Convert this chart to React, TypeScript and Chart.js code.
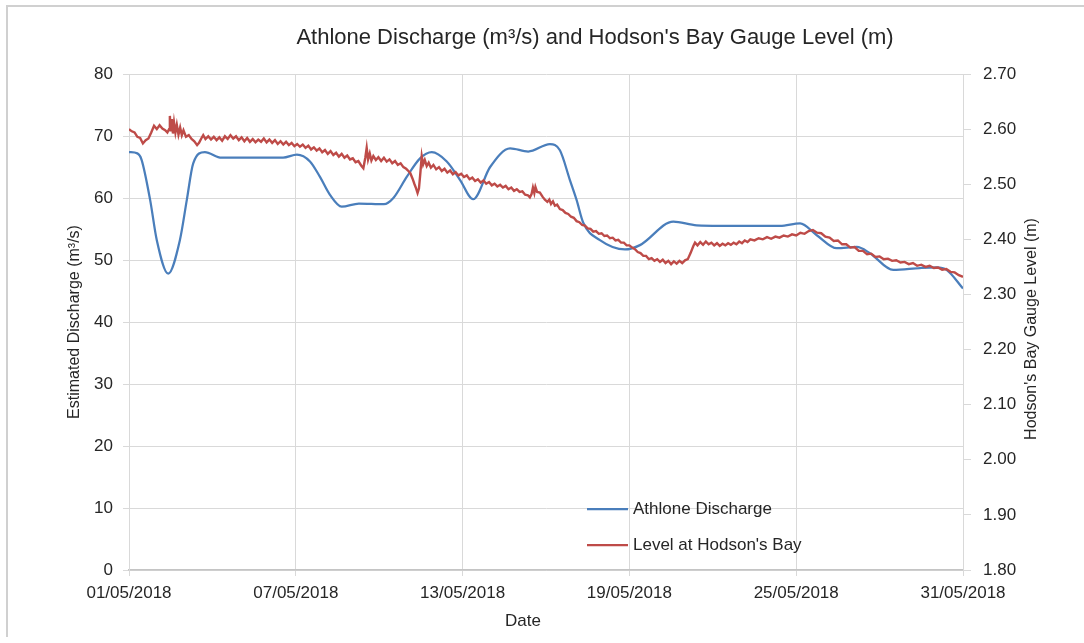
import React, { useEffect, useRef } from "react";
import { Chart, registerables } from "chart.js";

Chart.register(...registerables);

const FONT = "'Liberation Sans', Arial, sans-serif";

const chartTitle = "Athlone Discharge (m³/s) and Hodson's Bay Gauge Level (m)";
const leftAxisTitle = "Estimated Discharge (m³/s)";
const rightAxisTitle = "Hodson's Bay Gauge Level (m)";
const xAxisTitle = "Date";
const seriesNames = ["Athlone Discharge", "Level at Hodson's Bay"];

const dateTickLabels = ["01/05/2018", "07/05/2018", "13/05/2018", "19/05/2018", "25/05/2018", "31/05/2018"];

// Athlone discharge (m3/s), x = days since 01/05/2018
const dischargeDays = [0, 0.3, 0.45, 0.76, 1.0, 1.41, 1.83, 2.08, 2.31, 2.73, 3.33, 4.5, 5.54, 6.04, 6.51, 6.87, 7.23, 7.65, 8.27, 9.17, 9.51, 9.99, 10.47, 10.89, 11.43, 11.91, 12.38, 12.99, 13.71, 14.36, 15.14, 15.5, 15.86, 16.1, 16.34, 16.94, 17.84, 18.38, 19.58, 20.42, 22.34, 23.42, 24.14, 24.74, 25.46, 26.18, 26.65, 27.49, 28.45, 29.05, 29.41, 30];
const dischargeValues = [67.4, 67.2, 66.2, 59.7, 53.2, 47.8, 53.2, 59.7, 65.6, 67.4, 66.5, 66.5, 66.5, 67.0, 65.9, 63.4, 60.5, 58.6, 59.1, 59.0, 60.0, 63.4, 66.4, 67.4, 65.9, 62.9, 59.8, 65.0, 68.0, 67.5, 68.7, 67.7, 62.9, 59.7, 56.0, 53.2, 51.7, 52.4, 56.2, 55.6, 55.5, 55.5, 55.9, 54.0, 51.9, 52.1, 51.1, 48.4, 48.7, 48.8, 48.4, 45.4];

// Hodson's Bay gauge level (m): [day, level]
const levelReadings: [number, number][] = [
  [0.0, 2.600], [0.1, 2.596], [0.2, 2.594], [0.3, 2.586], [0.4, 2.584], [0.5, 2.574], [0.6, 2.580], [0.7, 2.583], [0.8, 2.594], [0.9, 2.606],
  [1.0, 2.600], [1.1, 2.607], [1.2, 2.601], [1.3, 2.598], [1.38, 2.594], [1.44, 2.600], [1.47, 2.624], [1.50, 2.596], [1.54, 2.618], [1.58, 2.592],
  [1.62, 2.612], [1.67, 2.594], [1.72, 2.608], [1.78, 2.590], [1.84, 2.603], [1.90, 2.589], [1.96, 2.598], [2.05, 2.586], [2.15, 2.589], [2.25, 2.582],
  [2.35, 2.578], [2.45, 2.571], [2.52, 2.575], [2.6, 2.583], [2.67, 2.589], [2.75, 2.582], [2.85, 2.587], [2.95, 2.581], [3.05, 2.586], [3.15, 2.580],
  [3.25, 2.585], [3.35, 2.579], [3.45, 2.587], [3.55, 2.582], [3.65, 2.589], [3.75, 2.583], [3.85, 2.587], [3.95, 2.580], [4.05, 2.585], [4.15, 2.578],
  [4.25, 2.584], [4.35, 2.577], [4.45, 2.582], [4.55, 2.576], [4.65, 2.581], [4.75, 2.577], [4.85, 2.583], [4.95, 2.576], [5.05, 2.581], [5.15, 2.575],
  [5.25, 2.580], [5.35, 2.573], [5.45, 2.578], [5.55, 2.572], [5.65, 2.577], [5.75, 2.571], [5.85, 2.575], [5.95, 2.569], [6.05, 2.573], [6.15, 2.568],
  [6.25, 2.572], [6.35, 2.566], [6.45, 2.570], [6.55, 2.563], [6.65, 2.567], [6.75, 2.561], [6.85, 2.565], [6.95, 2.558], [7.05, 2.562], [7.15, 2.555],
  [7.25, 2.560], [7.35, 2.553], [7.45, 2.557], [7.55, 2.550], [7.65, 2.555], [7.75, 2.548], [7.85, 2.552], [7.95, 2.545], [8.05, 2.547], [8.15, 2.540],
  [8.25, 2.542], [8.35, 2.534], [8.43, 2.529], [8.50, 2.548], [8.55, 2.566], [8.60, 2.545], [8.66, 2.556], [8.72, 2.543], [8.79, 2.551], [8.88, 2.544],
  [8.97, 2.549], [9.07, 2.542], [9.17, 2.548], [9.27, 2.541], [9.37, 2.545], [9.47, 2.538], [9.57, 2.542], [9.67, 2.535], [9.77, 2.538], [9.87, 2.531],
  [9.97, 2.528], [10.05, 2.524], [10.12, 2.520], [10.2, 2.510], [10.27, 2.500], [10.33, 2.492], [10.38, 2.484], [10.43, 2.492], [10.48, 2.520], [10.53, 2.551],
  [10.58, 2.536], [10.64, 2.544], [10.71, 2.533], [10.78, 2.539], [10.86, 2.530], [10.95, 2.535], [11.05, 2.527], [11.15, 2.531], [11.25, 2.524], [11.35, 2.528],
  [11.45, 2.521], [11.55, 2.525], [11.65, 2.518], [11.75, 2.522], [11.85, 2.516], [11.95, 2.519], [12.05, 2.513], [12.15, 2.516], [12.25, 2.509], [12.35, 2.512],
  [12.45, 2.506], [12.55, 2.509], [12.65, 2.503], [12.75, 2.507], [12.85, 2.501], [12.95, 2.504], [13.05, 2.498], [13.15, 2.501], [13.25, 2.496], [13.35, 2.499],
  [13.45, 2.494], [13.55, 2.497], [13.65, 2.491], [13.75, 2.494], [13.85, 2.488], [13.95, 2.491], [14.05, 2.486], [14.15, 2.487], [14.25, 2.481], [14.35, 2.480],
  [14.42, 2.476], [14.48, 2.482], [14.53, 2.494], [14.58, 2.484], [14.62, 2.495], [14.68, 2.486], [14.78, 2.485], [14.88, 2.477], [14.96, 2.472], [15.05, 2.468],
  [15.12, 2.472], [15.18, 2.464], [15.25, 2.469], [15.32, 2.461], [15.4, 2.463], [15.5, 2.455], [15.6, 2.453], [15.7, 2.448], [15.8, 2.446], [15.9, 2.441],
  [16.0, 2.439], [16.1, 2.433], [16.2, 2.431], [16.3, 2.426], [16.4, 2.425], [16.5, 2.420], [16.6, 2.419], [16.7, 2.414], [16.8, 2.415], [16.9, 2.410],
  [17.0, 2.411], [17.1, 2.406], [17.2, 2.407], [17.3, 2.402], [17.4, 2.403], [17.5, 2.398], [17.6, 2.399], [17.7, 2.394], [17.8, 2.394], [17.9, 2.389],
  [18.0, 2.389], [18.1, 2.385], [18.2, 2.382], [18.3, 2.377], [18.4, 2.375], [18.5, 2.370], [18.6, 2.370], [18.7, 2.364], [18.8, 2.366], [18.9, 2.361],
  [19.0, 2.364], [19.1, 2.359], [19.2, 2.363], [19.3, 2.357], [19.4, 2.361], [19.5, 2.355], [19.6, 2.360], [19.7, 2.356], [19.8, 2.361], [19.9, 2.357],
  [20.0, 2.362], [20.1, 2.364], [20.2, 2.375], [20.3, 2.388], [20.36, 2.394], [20.45, 2.389], [20.55, 2.395], [20.65, 2.390], [20.75, 2.396], [20.85, 2.391],
  [20.95, 2.394], [21.05, 2.389], [21.15, 2.393], [21.25, 2.388], [21.35, 2.392], [21.45, 2.389], [21.55, 2.393], [21.65, 2.390], [21.75, 2.394], [21.85, 2.391],
  [21.95, 2.396], [22.05, 2.393], [22.15, 2.398], [22.25, 2.395], [22.35, 2.400], [22.5, 2.398], [22.65, 2.402], [22.8, 2.400], [22.95, 2.404], [23.1, 2.401],
  [23.25, 2.405], [23.4, 2.403], [23.55, 2.407], [23.7, 2.405], [23.85, 2.409], [24.0, 2.407], [24.15, 2.412], [24.3, 2.410], [24.45, 2.415], [24.6, 2.417],
  [24.75, 2.412], [24.9, 2.411], [25.05, 2.405], [25.2, 2.403], [25.35, 2.397], [25.5, 2.398], [25.65, 2.391], [25.8, 2.391], [25.95, 2.385], [26.1, 2.386],
  [26.25, 2.379], [26.4, 2.379], [26.55, 2.373], [26.7, 2.374], [26.85, 2.368], [27.0, 2.369], [27.15, 2.364], [27.3, 2.365], [27.45, 2.361], [27.6, 2.362],
  [27.75, 2.358], [27.9, 2.359], [28.05, 2.355], [28.2, 2.357], [28.35, 2.352], [28.5, 2.354], [28.65, 2.350], [28.8, 2.352], [28.95, 2.348], [29.1, 2.349],
  [29.25, 2.345], [29.4, 2.346], [29.55, 2.341], [29.7, 2.340], [29.85, 2.335], [30.0, 2.332],
];

const BLUE = "#4a7ebb";
const RED = "#be4b48";
const GRID = "#d9d9d9";
const TEXT = "#262626";

const textPlugin = {
  id: "customText",
  afterDraw(chart: any) {
    const { ctx, chartArea } = chart;
    ctx.save();
    ctx.fillStyle = TEXT;
    ctx.textBaseline = "middle";
    ctx.textAlign = "center";

    ctx.font = `22px ${FONT}`;
    ctx.fillText(chartTitle, 595, 38);

    ctx.font = `17px ${FONT}`;
    ctx.fillText(xAxisTitle, 523, 621);

    ctx.font = `16px ${FONT}`;
    ctx.save();
    ctx.translate(75, (chartArea.top + chartArea.bottom) / 2);
    ctx.rotate(-Math.PI / 2);
    ctx.fillText(leftAxisTitle, 0, 0);
    ctx.restore();

    ctx.save();
    ctx.translate(1032, (chartArea.top + chartArea.bottom) / 2 + 7);
    ctx.rotate(-Math.PI / 2);
    ctx.fillText(rightAxisTitle, 0, 0);
    ctx.restore();

    // legend
    const colors = [BLUE, RED];
    const lx = 587;
    const ys = [509, 545];
    ctx.font = `17px ${FONT}`;
    ctx.textAlign = "left";
    seriesNames.forEach((name, i) => {
      ctx.strokeStyle = colors[i];
      ctx.lineWidth = 2.25;
      ctx.beginPath();
      ctx.moveTo(lx, ys[i]);
      ctx.lineTo(lx + 41, ys[i]);
      ctx.stroke();
      ctx.fillStyle = TEXT;
      ctx.fillText(name, lx + 46, ys[i]);
    });
    ctx.restore();
  },
};

export default function App() {
  const canvasRef = useRef<HTMLCanvasElement | null>(null);

  useEffect(() => {
    const canvas = canvasRef.current;
    if (!canvas) return;
    const tickFont = { family: FONT, size: 17 };
    const chart = new Chart(canvas, {
      type: "line",
      data: {
        datasets: [
          {
            label: seriesNames[0],
            data: dischargeDays.map((d, i) => ({ x: d, y: dischargeValues[i] })),
            yAxisID: "y",
            borderColor: BLUE,
            backgroundColor: BLUE,
            borderWidth: 2.25,
            pointRadius: 0,
            cubicInterpolationMode: "monotone",
            fill: false,
            order: 1,
          },
          {
            label: seriesNames[1],
            data: levelReadings.map(([d, v]) => ({ x: d, y: v })),
            yAxisID: "y1",
            borderColor: RED,
            backgroundColor: RED,
            borderWidth: 2.4,
            pointRadius: 0,
            tension: 0,
            fill: false,
            order: 0,
          },
        ],
      },
      options: {
        responsive: false,
        animation: false,
        devicePixelRatio: 1,
        layout: { padding: { top: 74, left: 0, right: 0, bottom: 0 } },
        plugins: {
          legend: { display: false },
          title: { display: false },
          tooltip: { enabled: false },
        },
        scales: {
          x: {
            type: "linear",
            min: 0,
            max: 30,
            ticks: {
              stepSize: 6,
              autoSkip: false,
              maxRotation: 0,
              padding: 7,
              color: TEXT,
              font: tickFont,
              callback: (v: any) => dateTickLabels[Math.round(Number(v) / 6)] ?? "",
            },
            grid: { color: GRID, lineWidth: 1, tickLength: 6, drawTicks: true },
            border: { color: "#c4c4c4", width: 1.5 },
            afterFit: (s: any) => { s.height = 73; },
          },
          y: {
            type: "linear",
            position: "left",
            min: 0,
            max: 80,
            ticks: { stepSize: 10, padding: 10, color: TEXT, font: tickFont },
            grid: { color: GRID, lineWidth: 1, tickLength: 6 },
            border: { color: GRID, width: 1 },
            afterFit: (s: any) => { s.width = 129; },
          },
          y1: {
            type: "linear",
            position: "right",
            min: 1.8,
            max: 2.7,
            ticks: {
              stepSize: 0.1,
              padding: 12,
              color: TEXT,
              font: tickFont,
              callback: (v: any) => Number(v).toFixed(2),
            },
            grid: { drawOnChartArea: false, color: GRID, tickLength: 8 },
            border: { color: GRID, width: 1 },
            afterFit: (s: any) => { s.width = 121; },
          },
        },
      },
      plugins: [textPlugin],
    } as any);
    return () => chart.destroy();
  }, []);

  return (
    <div style={{ position: "fixed", left: 0, top: 0, width: 1084, height: 643, background: "#fff" }}>
      <canvas ref={canvasRef} width={1084} height={643} style={{ position: "absolute", left: 0, top: 0, width: 1084, height: 643 }} />
      <div style={{ position: "absolute", left: 6, top: 5, width: 1078, height: 0, borderTop: "2px solid #d0d0d0" }} />
      <div style={{ position: "absolute", left: 6, top: 5, width: 0, height: 632, borderLeft: "2px solid #d0d0d0" }} />
    </div>
  );
}
